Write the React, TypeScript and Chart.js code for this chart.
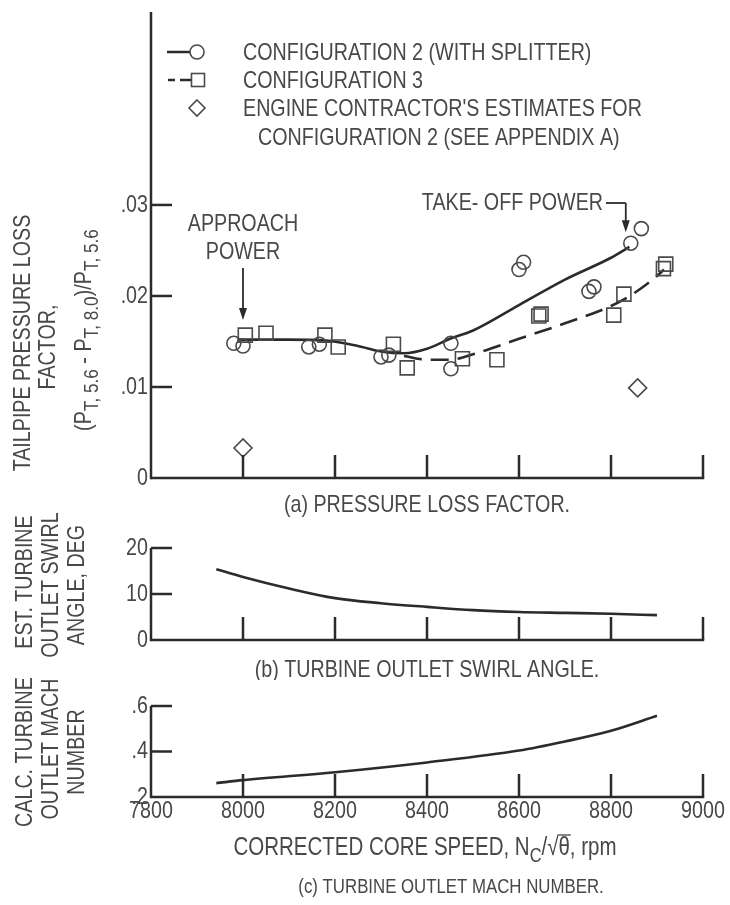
import React, { useEffect, useRef } from 'react';
import { Chart, registerables } from 'chart.js';
Chart.register(...registerables);

const FONT = "'Liberation Sans', Arial, sans-serif";
const SX = 0.82; // horizontal condensing of the type
const TEXT = '#484848';
const INK = '#2b2b2b';
const FS = 24;
const SUBFS = 19;

// Shared x axis (corrected core speed, rpm)
const rpmMin = 7800;
const rpmMax = 9000;
const rpmTickValues = [8000, 8200, 8400, 8600, 8800, 9000];
const xTickLabels = ['7800', '8000', '8200', '8400', '8600', '8800', '9000'];

// (a) Pressure loss factor
const lossTicks = [0, 0.01, 0.02, 0.03];
const lossTickLabels = ['0', '.01', '.02', '.03'];
const cfg2Rpm = [7980, 8000, 8143, 8166, 8300, 8317, 8452, 8452, 8600, 8610, 8752, 8763, 8843, 8866];
const cfg2Loss = [0.0148, 0.0145, 0.0144, 0.0147, 0.0133, 0.0135, 0.0148, 0.012, 0.0229, 0.0237, 0.0205, 0.021, 0.0258, 0.0274];
const cfg3Rpm = [8005, 8050, 8178, 8207, 8327, 8357, 8477, 8552, 8643, 8648, 8806, 8828, 8914, 8919];
const cfg3Loss = [0.0157, 0.0159, 0.0157, 0.0144, 0.0147, 0.0121, 0.0131, 0.013, 0.0178, 0.018, 0.0179, 0.0202, 0.023, 0.0235];
const estRpm = [8000, 8858];
const estLoss = [0.0033, 0.0099];
const cfg2FitRpm = [7988, 8000, 8100, 8180, 8250, 8300, 8350, 8400, 8450, 8500, 8600, 8700, 8800, 8840];
const cfg2FitLoss = [0.0152, 0.0152, 0.0152, 0.0151, 0.0145, 0.0139, 0.0137, 0.0142, 0.0153, 0.0162, 0.019, 0.0218, 0.0242, 0.0254];
const cfg3FitRpm = [8350, 8400, 8450, 8500, 8600, 8700, 8800, 8850, 8900, 8915];
const cfg3FitLoss = [0.0134, 0.013, 0.013, 0.0136, 0.0153, 0.017, 0.0189, 0.0203, 0.0222, 0.0229];
const approachRpm = 8000;
const takeoffRpm = 8843;
const takeoffLoss = 0.0258;

// (b) Turbine outlet swirl angle
const swirlTicks = [0, 10, 20];
const swirlTickLabels = ['0', '10', '20'];
const swirlRpm = [7942, 8000, 8100, 8200, 8300, 8400, 8500, 8600, 8700, 8800, 8900];
const swirlDeg = [15.4, 13.7, 11.2, 9.1, 8.0, 7.2, 6.5, 6.1, 5.9, 5.7, 5.4];

// (c) Turbine outlet Mach number
const machTicks = [0.2, 0.4, 0.6];
const machTickLabels = ['.2', '.4', '.6'];
const machRpm = [7942, 8000, 8200, 8400, 8600, 8700, 8800, 8900];
const machVal = [0.261, 0.274, 0.309, 0.352, 0.404, 0.444, 0.491, 0.557];

const pts = (xs: number[], ys: number[]) => xs.map((x, i) => ({ x, y: ys[i] }));

type Seg = { t: string; sub?: boolean };

function measure(ctx: CanvasRenderingContext2D, t: string, size = FS) {
  ctx.save();
  ctx.font = `${size}px ${FONT}`;
  const w = ctx.measureText(t).width * SX;
  ctx.restore();
  return w;
}

function txt(ctx: CanvasRenderingContext2D, t: string, x: number, y: number, align: CanvasTextAlign = 'center', rot = false, size = FS) {
  ctx.save();
  ctx.translate(x, y);
  if (rot) ctx.rotate(-Math.PI / 2);
  ctx.scale(SX, 1);
  ctx.font = `${size}px ${FONT}`;
  ctx.fillStyle = TEXT;
  ctx.textAlign = align;
  ctx.textBaseline = 'middle';
  ctx.fillText(t, 0, 0);
  ctx.restore();
}

function richText(ctx: CanvasRenderingContext2D, segs: Seg[], cx: number, cy: number, rot: boolean, size = FS, subSize = SUBFS) {
  const widths = segs.map((s) => measure(ctx, s.t, s.sub ? subSize : size));
  const total = widths.reduce((a, b) => a + b, 0);
  ctx.save();
  ctx.translate(cx, cy);
  if (rot) ctx.rotate(-Math.PI / 2);
  let xx = -total / 2;
  segs.forEach((s, i) => {
    txt(ctx, s.t, xx, s.sub ? 8 : 0, 'left', false, s.sub ? subSize : size);
    xx += widths[i];
  });
  ctx.restore();
  return { total, widths };
}

function line(ctx: CanvasRenderingContext2D, x1: number, y1: number, x2: number, y2: number) {
  ctx.beginPath();
  ctx.moveTo(x1, y1);
  ctx.lineTo(x2, y2);
  ctx.stroke();
}

function arrowDown(ctx: CanvasRenderingContext2D, x: number, tipY: number) {
  ctx.beginPath();
  ctx.moveTo(x, tipY);
  ctx.lineTo(x - 4, tipY - 12);
  ctx.lineTo(x + 4, tipY - 12);
  ctx.closePath();
  ctx.fill();
}

function drawFrame(chart: any, yTickVals: number[], yTickLabels: string[]) {
  const { ctx, chartArea: ca, scales } = chart;
  const x = scales.x;
  const y = scales.y;
  ctx.save();
  ctx.strokeStyle = INK;
  ctx.lineWidth = 2.5;
  line(ctx, ca.left, ca.top, ca.left, ca.bottom + 1.2);
  line(ctx, ca.left, ca.bottom, x.getPixelForValue(rpmMax) + 1.2, ca.bottom);
  rpmTickValues.forEach((v) => {
    const px = x.getPixelForValue(v);
    line(ctx, px, ca.bottom, px, ca.bottom - 23);
  });
  yTickVals.forEach((v, i) => {
    const py = y.getPixelForValue(v);
    if (i > 0) line(ctx, ca.left, py, ca.left + 21, py);
    txt(ctx, yTickLabels[i], ca.left - 3, py, 'right');
  });
  ctx.restore();
}

const yAxisCommon = (min: number, max: number) => ({
  type: 'linear' as const,
  min,
  max,
  afterFit: (s: any) => {
    s.width = 151;
  },
  grid: { display: false, drawTicks: false },
  border: { display: false },
  ticks: { display: false },
});

const xAxis = (h: number) => ({
  type: 'linear' as const,
  min: rpmMin,
  max: rpmMax,
  afterFit: (s: any) => {
    s.height = h;
  },
  grid: { display: false, drawTicks: false },
  border: { display: false },
  ticks: { display: false },
});

const markerBase = {
  showLine: false,
  borderColor: '#4a4a4a',
  backgroundColor: 'rgba(0,0,0,0)',
  borderWidth: 1.6,
  pointBorderWidth: 1.6,
};

const baseOptions = (padTop: number, xH: number, yScale: any) => ({
  responsive: false,
  animation: false,
  devicePixelRatio: 1,
  layout: { padding: { top: padTop, right: 27, left: 0, bottom: 0 } },
  plugins: { legend: { display: false }, tooltip: { enabled: false } },
  scales: { x: xAxis(xH), y: yScale },
});

// canvas placements on the page
const TOP_A = 0;
const H_A = 520;
const TOP_B = 500;
const H_B = 180;
const TOP_C = 660;
const H_C = 245;

function configA(): any {
  const plugin = {
    id: 'frameA',
    afterDraw(chart: any) {
      const { ctx, scales } = chart;
      const x = scales.x;
      const y = scales.y;
      drawFrame(chart, lossTicks, lossTickLabels);
      ctx.save();
      ctx.translate(0, -TOP_A);
      ctx.strokeStyle = INK;
      ctx.fillStyle = INK;
      // legend
      ctx.lineWidth = 2.5;
      line(ctx, 167, 52, 190, 52);
      ctx.lineWidth = 1.6;
      ctx.strokeStyle = '#4a4a4a';
      ctx.beginPath();
      ctx.arc(197, 52, 7, 0, Math.PI * 2);
      ctx.stroke();
      ctx.strokeStyle = INK;
      ctx.lineWidth = 2.5;
      line(ctx, 168, 80, 175, 80);
      line(ctx, 180, 80, 191, 80);
      ctx.strokeStyle = '#4a4a4a';
      ctx.lineWidth = 1.6;
      ctx.strokeRect(191.5, 73.5, 13, 13);
      ctx.beginPath();
      ctx.moveTo(197, 100);
      ctx.lineTo(205, 108);
      ctx.lineTo(197, 116);
      ctx.lineTo(189, 108);
      ctx.closePath();
      ctx.stroke();
      txt(ctx, 'CONFIGURATION 2 (WITH SPLITTER)', 243, 53, 'left');
      txt(ctx, 'CONFIGURATION 3', 243, 81, 'left');
      txt(ctx, "ENGINE CONTRACTOR'S ESTIMATES FOR", 243, 109, 'left');
      txt(ctx, 'CONFIGURATION 2 (SEE APPENDIX A)', 258, 138, 'left');

      // approach power annotation
      const ax = x.getPixelForValue(approachRpm);
      txt(ctx, 'APPROACH', ax, 224);
      txt(ctx, 'POWER', ax, 252);
      ctx.strokeStyle = INK;
      ctx.fillStyle = INK;
      ctx.lineWidth = 1.8;
      line(ctx, ax, 268, ax, 310);
      arrowDown(ctx, ax, 320);
      // take-off power annotation
      const tx = x.getPixelForValue(takeoffRpm) - 5;
      const tTip = y.getPixelForValue(takeoffLoss) - 11;
      txt(ctx, 'TAKE- OFF POWER', 603, 203, 'right');
      line(ctx, 606, 203, tx, 203);
      line(ctx, tx, 203, tx, tTip - 8);
      arrowDown(ctx, tx, tTip);

      // y-axis title
      txt(ctx, 'TAILPIPE PRESSURE LOSS', 23, 343, 'center', true);
      txt(ctx, 'FACTOR,', 48, 347, 'center', true);
      richText(
        ctx,
        [
          { t: '(P' },
          { t: 'T, 5.6', sub: true },
          { t: ' - P' },
          { t: 'T, 8.0', sub: true },
          { t: ')/P' },
          { t: 'T, 5.6', sub: true },
        ],
        84,
        330,
        true,
        FS,
        21,
      );
      txt(ctx, '(a) PRESSURE LOSS FACTOR.', 427, 505);
      ctx.restore();
    },
  };
  return {
    type: 'scatter',
    data: {
      datasets: [
        { label: 'Configuration 2 (with splitter)', data: pts(cfg2Rpm, cfg2Loss), pointStyle: 'circle', pointRadius: 7, ...markerBase },
        { label: 'Configuration 3', data: pts(cfg3Rpm, cfg3Loss), pointStyle: 'rect', pointRadius: 9.9, ...markerBase },
        { label: "Engine contractor's estimates for configuration 2", data: pts(estRpm, estLoss), pointStyle: 'rectRot', pointRadius: 9, ...markerBase },
        {
          label: 'Configuration 2 fit',
          data: pts(cfg2FitRpm, cfg2FitLoss),
          showLine: true,
          pointRadius: 0,
          borderColor: INK,
          borderWidth: 2.6,
          cubicInterpolationMode: 'monotone',
        },
        {
          label: 'Configuration 3 fit',
          data: pts(cfg3FitRpm, cfg3FitLoss),
          showLine: true,
          pointRadius: 0,
          borderColor: INK,
          borderWidth: 2.6,
          borderDash: [18, 9],
          cubicInterpolationMode: 'monotone',
        },
      ],
    },
    options: baseOptions(12, H_A - 478, yAxisCommon(0, 0.0512)),
    plugins: [plugin],
  };
}

function configB(): any {
  const plugin = {
    id: 'frameB',
    afterDraw(chart: any) {
      const { ctx } = chart;
      drawFrame(chart, swirlTicks, swirlTickLabels);
      ctx.save();
      ctx.translate(0, -TOP_B);
      txt(ctx, 'EST. TURBINE', 25, 582, 'center', true);
      txt(ctx, 'OUTLET SWIRL', 51, 585, 'center', true);
      txt(ctx, 'ANGLE, DEG', 77, 585, 'center', true);
      txt(ctx, '(b) TURBINE OUTLET SWIRL ANGLE.', 427, 670);
      ctx.restore();
    },
  };
  return {
    type: 'scatter',
    data: {
      datasets: [
        {
          label: 'Swirl angle',
          data: pts(swirlRpm, swirlDeg),
          showLine: true,
          pointRadius: 0,
          borderColor: INK,
          borderWidth: 2.6,
          cubicInterpolationMode: 'monotone',
        },
      ],
    },
    options: baseOptions(548 - TOP_B, TOP_B + H_B - 640, yAxisCommon(0, 20)),
    plugins: [plugin],
  };
}

function configC(): any {
  const plugin = {
    id: 'frameC',
    afterDraw(chart: any) {
      const { ctx, chartArea: ca, scales } = chart;
      drawFrame(chart, machTicks, machTickLabels);
      xTickLabels.forEach((l) => {
        txt(ctx, l, scales.x.getPixelForValue(Number(l)), ca.bottom + 14);
      });
      ctx.save();
      ctx.translate(0, -TOP_C);
      txt(ctx, 'CALC. TURBINE', 25, 752, 'center', true);
      txt(ctx, 'OUTLET MACH', 51, 749, 'center', true);
      txt(ctx, 'NUMBER', 77, 752, 'center', true);
      // x-axis title with subscript and radical
      const segs: Seg[] = [{ t: 'CORRECTED CORE SPEED, N' }, { t: 'C', sub: true }, { t: '/\u221A' }, { t: '\u03B8' }, { t: ', rpm' }];
      const { total, widths } = richText(ctx, segs, 425, 848, false, 25, 20);
      const sx = 425 - total / 2 + widths[0] + widths[1] + widths[2];
      ctx.strokeStyle = TEXT;
      ctx.lineWidth = 1.3;
      line(ctx, sx - 1, 835, sx + widths[3] + 1, 835);
      txt(ctx, '(c) TURBINE OUTLET MACH NUMBER.', 451, 887, 'center', false, 20.5);
      ctx.restore();
    },
  };
  return {
    type: 'scatter',
    data: {
      datasets: [
        {
          label: 'Mach number',
          data: pts(machRpm, machVal),
          showLine: true,
          pointRadius: 0,
          borderColor: INK,
          borderWidth: 2.6,
          cubicInterpolationMode: 'monotone',
        },
      ],
    },
    options: baseOptions(706 - TOP_C, TOP_C + H_C - 797, yAxisCommon(0.2, 0.6)),
    plugins: [plugin],
  };
}

export default function App() {
  const refA = useRef<HTMLCanvasElement>(null);
  const refB = useRef<HTMLCanvasElement>(null);
  const refC = useRef<HTMLCanvasElement>(null);
  useEffect(() => {
    const a = new Chart(refA.current as HTMLCanvasElement, configA());
    const b = new Chart(refB.current as HTMLCanvasElement, configB());
    const c = new Chart(refC.current as HTMLCanvasElement, configC());
    return () => {
      a.destroy();
      b.destroy();
      c.destroy();
    };
  }, []);
  const cs = (top: number, h: number): React.CSSProperties => ({ position: 'absolute', left: 0, top, width: 730, height: h });
  return (
    <div style={{ position: 'absolute', left: 0, top: 0, width: 730, height: 905, background: '#fff' }}>
      <canvas ref={refA} width={730} height={H_A} style={cs(TOP_A, H_A)} />
      <canvas ref={refB} width={730} height={H_B} style={cs(TOP_B, H_B)} />
      <canvas ref={refC} width={730} height={H_C} style={cs(TOP_C, H_C)} />
    </div>
  );
}
